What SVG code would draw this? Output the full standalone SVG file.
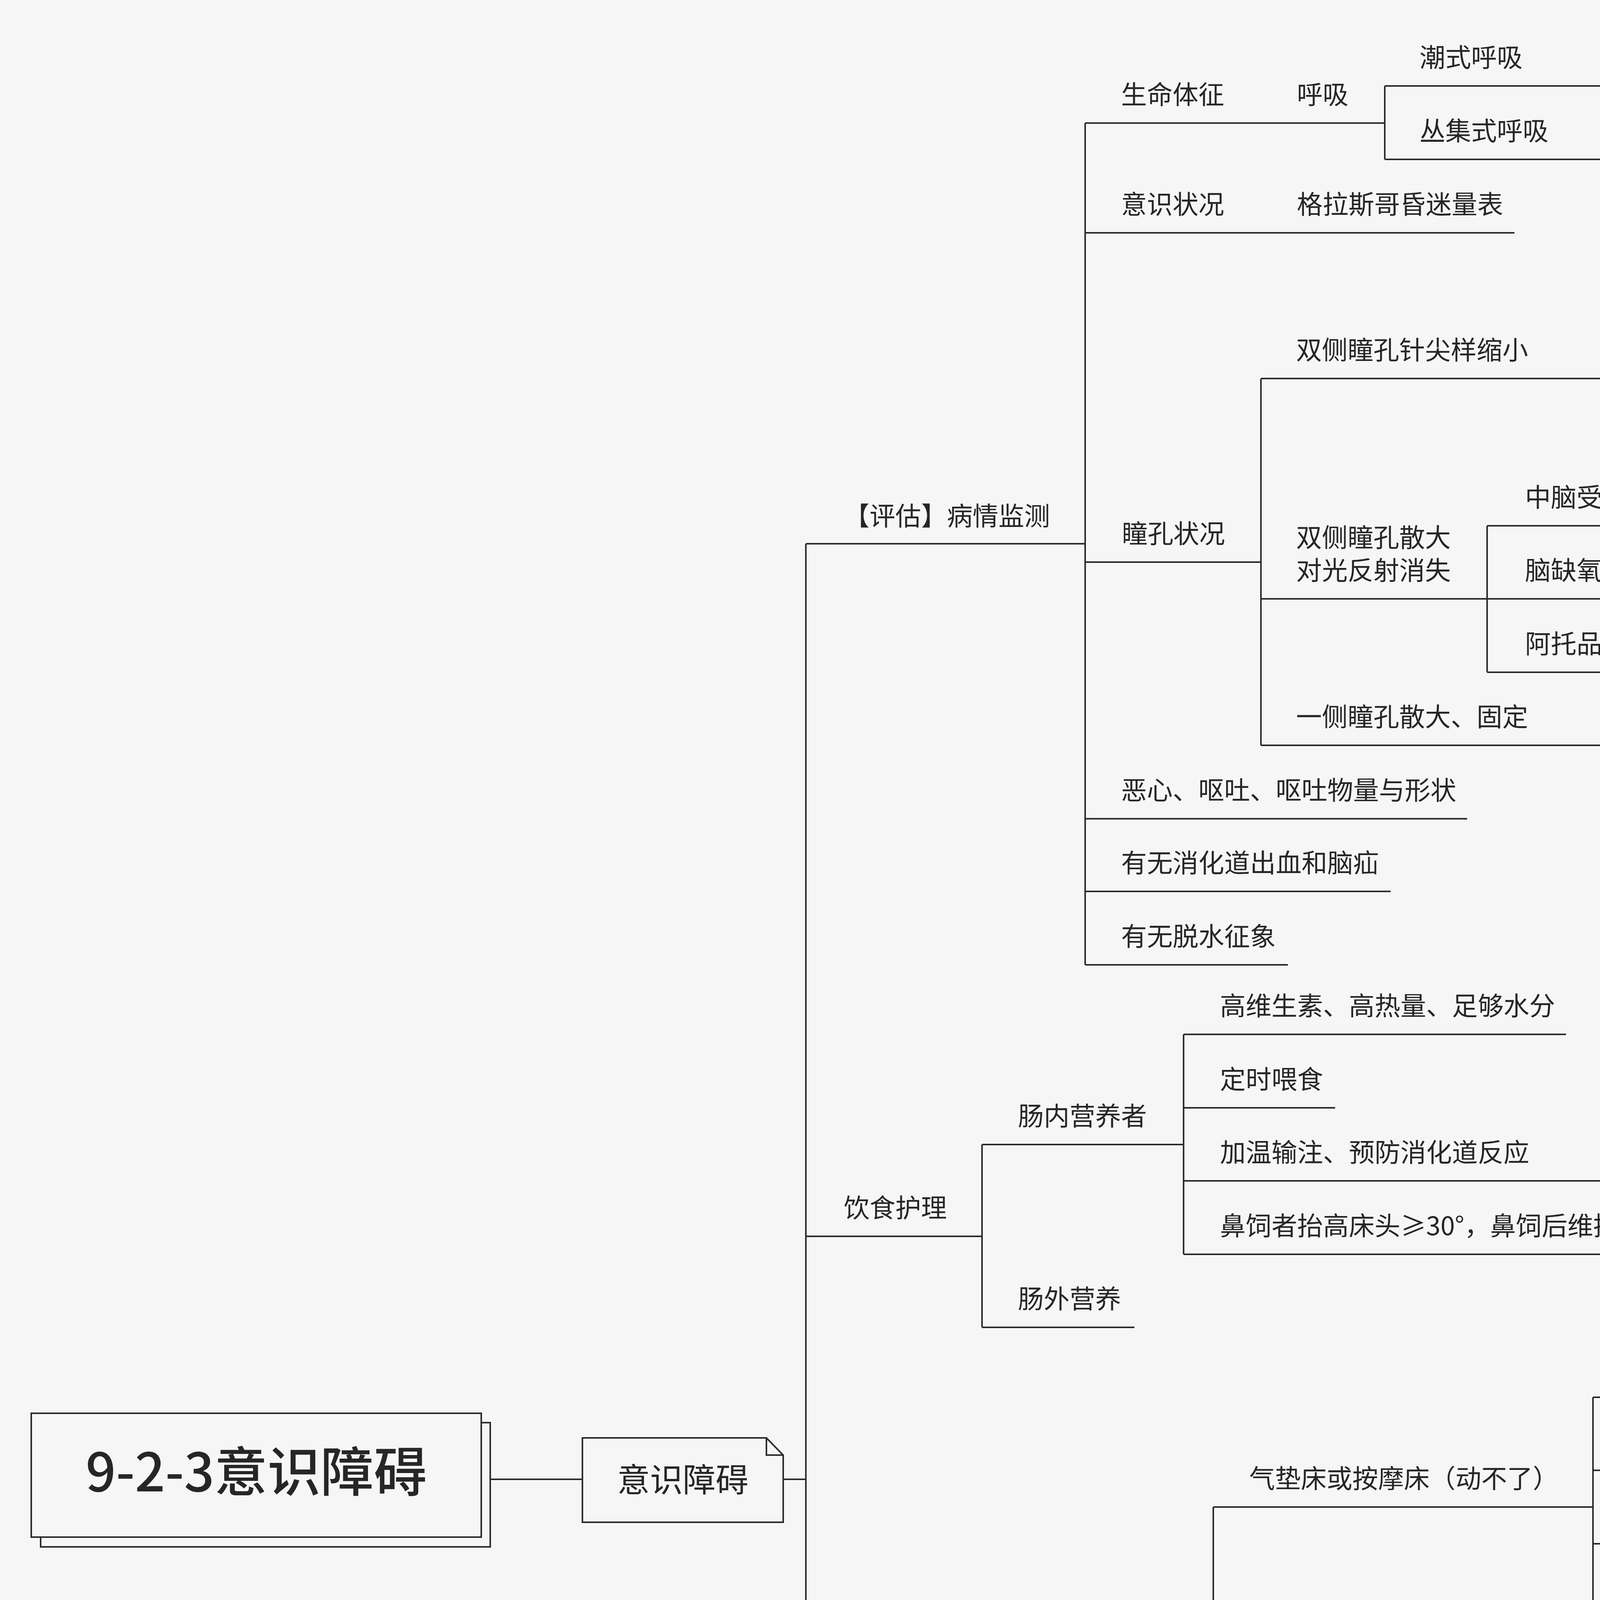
<svg xmlns="http://www.w3.org/2000/svg" width="5401" height="6826" viewBox="0 0 5401 6826">
<style>
.t{font-family:"Noto Sans CJK SC","Noto Sans",sans-serif;font-size:66px;fill:#262626}
.big{font-weight:500}
.ln{stroke:#2b2b2b;stroke-width:4;fill:none}
.box{stroke:#2b2b2b;stroke-width:4;fill:#f6f6f6}
</style>
<rect x="0" y="0" width="5401" height="6826" fill="#f6f6f6"/>
<g id="connectors" class="ln">
<path d="M1255,3787H1491"/>
<path d="M2005,3787H2063"/>
<path d="M2063,1392V6182"/>
<path d="M2778,315V2470"/>
<path d="M3545,220V408"/>
<path d="M3228,969V1908"/>
<path d="M4586,783V1158"/>
<path d="M3807,1346V1721"/>
<path d="M2514,2930V3398"/>
<path d="M3030,2648V3211"/>
<path d="M3106,3858V4701"/>
<path d="M4078,3577V4139"/>
<path d="M2710,4880V5442"/>
<path d="M2582,5620V6746"/>
</g>
<g id="root">
<rect class="box" x="104" y="3642" width="1151" height="318"/>
<rect class="box" x="80" y="3618" width="1152" height="317"/>
<text class="t big" x="656" y="3818" text-anchor="middle" style="font-size:136px">9-2-3意识障碍</text>
</g>
<g id="main">
<path class="box" d="M1491,3681H1962L2005,3725V3897H1491Z"/>
<path class="ln" d="M1962,3681V3725H2005"/>
<text class="t" x="1748" y="3819" text-anchor="middle" style="font-size:84px">意识障碍</text>
</g>
<g id="n-pinggu"><path class="ln" d="M2063,1392H2778"/><text class="t" x="2160" y="1345">【评估】病情监测</text></g>
<g id="n-smtz"><path class="ln" d="M2778,315H3545"/><text class="t" x="2870" y="266">生命体征</text><text class="t" x="3320" y="266">呼吸</text></g>
<g id="n-chaoshi"><path class="ln" d="M3545,220H4518"/><text class="t" x="3634" y="171">潮式呼吸</text><text class="t" x="4090" y="171">中脑水平受损</text></g>
<g id="n-congji"><path class="ln" d="M3545,408H4583"/><text class="t" x="3634" y="359">丛集式呼吸</text><text class="t" x="4154" y="359">脑桥下部病变</text></g>
<g id="n-yishi"><path class="ln" d="M2778,596H3877"/><text class="t" x="2870" y="547">意识状况</text><text class="t" x="3320" y="547">格拉斯哥昏迷量表</text></g>
<g id="n-tongkong"><path class="ln" d="M2778,1439H3228"/><text class="t" x="2872" y="1390">瞳孔状况</text></g>
<g id="n-zhenjian"><path class="ln" d="M3228,969H4586"/><text class="t" x="3318" y="920">双侧瞳孔针尖样缩小</text><text class="t" x="4098" y="920">脑桥被盖损伤</text></g>
<g id="n-nqcx"><path class="ln" d="M4586,783H4976"/><text class="t" x="4680" y="734">脑桥出血</text></g>
<g id="n-yjl"><path class="ln" d="M4586,969H5042"/><text class="t" x="4680" y="920">有机磷中毒</text></g>
<g id="n-mf"><path class="ln" d="M4586,1158H5042"/><text class="t" x="4680" y="1109">吗啡类中毒</text></g>
<g id="n-sanda"><path class="ln" d="M3228,1533H3807"/><text class="t" x="3318" y="1400">双侧瞳孔散大<tspan x="3318" y="1484">对光反射消失</tspan></text></g>
<g id="n-znss"><path class="ln" d="M3807,1346H4197"/><text class="t" x="3904" y="1297">中脑受损</text></g>
<g id="n-nqy"><path class="ln" d="M3807,1533H4131"/><text class="t" x="3904" y="1484">脑缺氧</text></g>
<g id="n-atp"><path class="ln" d="M3807,1721H4460"/><text class="t" x="3904" y="1672">阿托品类药物中毒</text></g>
<g id="n-yice"><path class="ln" d="M3228,1908H5042"/><text class="t" x="3318" y="1859">一侧瞳孔散大、固定</text><text class="t" x="4098" y="1859">同侧动眼神经受损</text><text class="t" x="4810" y="1859">钩回疝</text></g>
<g id="n-exin"><path class="ln" d="M2778,2096H3756"/><text class="t" x="2870" y="2047">恶心、呕吐、呕吐物量与形状</text></g>
<g id="n-xhd"><path class="ln" d="M2778,2282H3560"/><text class="t" x="2870" y="2233">有无消化道出血和脑疝</text></g>
<g id="n-ts"><path class="ln" d="M2778,2470H3297"/><text class="t" x="2870" y="2421">有无脱水征象</text></g>
<g id="n-yinshi"><path class="ln" d="M2063,3165H2514"/><text class="t" x="2160" y="3116">饮食护理</text></g>
<g id="n-cn"><path class="ln" d="M2514,2930H3030"/><text class="t" x="2606" y="2881">肠内营养者</text></g>
<g id="n-gws"><path class="ln" d="M3030,2648H4009"/><text class="t" x="3123" y="2599">高维生素、高热量、足够水分</text></g>
<g id="n-dsws"><path class="ln" d="M3030,2836H3418"/><text class="t" x="3123" y="2787">定时喂食</text></g>
<g id="n-jwsz"><path class="ln" d="M3030,3023H5118"/><text class="t" x="3123" y="2974">加温输注、预防消化道反应</text><text class="t" x="4096" y="2974">通过腹部按摩、热敷改善胃肠功能</text></g>
<g id="n-bs"><path class="ln" d="M3030,3211H5204"/><text class="t" x="3123" y="3162">鼻饲者抬高床头≥30°，鼻饲后维持原体位30分钟</text><text class="t" x="4708" y="3162">避免反流或呕吐</text></g>
<g id="n-cw"><path class="ln" d="M2514,3398H2904"/><text class="t" x="2606" y="3349">肠外营养</text></g>
<g id="n-shhl"><path class="ln" d="M2063,4279H3106"/><text class="t" x="2160" y="4230">生活护理（动不了、吃不了）</text></g>
<g id="n-qdc"><path class="ln" d="M3106,3858H4078"/><text class="t" x="3198" y="3809">气垫床或按摩床（动不了）</text></g>
<g id="n-jz"><path class="ln" d="M4078,3577H4664"/><text class="t" x="4174" y="3528">加装保护性床栏</text></g>
<g id="n-cdw"><path class="ln" d="M4078,3764H4729"/><text class="t" x="4174" y="3715">床单位整洁、干燥</text></g>
<g id="n-bczt"><path class="ln" d="M4078,3952H4664"/><text class="t" x="4174" y="3903">保持肢体功能位</text></g>
<g id="n-fs"><path class="ln" d="M4078,4139H5323"/><text class="t" x="4174" y="4090">定时给予翻身、拍背、按摩骨突受压处</text></g>
<g id="n-dxb"><path class="ln" d="M3106,4327H5156"/><text class="t" x="3198" y="4278">（大小便失禁）做好大小便护理 保持皮肤部位清洁 预防尿路感染</text></g>
<g id="n-cbl"><path class="ln" d="M3106,4514H5130"/><text class="t" x="3198" y="4465">（吃不了）注意口腔卫生 不能经口进食或禁食者每天口护2-3次</text></g>
<g id="n-ysbq"><path class="ln" d="M3106,4701H4946"/><text class="t" x="3198" y="4652">（意识不清）肢端发凉者注意保暖 但慎用热水袋防止烫伤</text></g>
<g id="n-hxd"><path class="ln" d="M2063,5160H2710"/><text class="t" x="2160" y="5111">保持呼吸道通畅</text></g>
<g id="n-pw"><path class="ln" d="M2710,4880H3429"/><text class="t" x="2804" y="4831">平卧头侧位或侧卧位</text></g>
<g id="n-qx"><path class="ln" d="M2710,5067H3626"/><text class="t" x="2804" y="5018">取下活动性义齿、开放气道</text></g>
<g id="n-jsql"><path class="ln" d="M2710,5255H3821"/><text class="t" x="2804" y="5206">及时清理口鼻腔分泌物与气道痰液</text></g>
<g id="n-fzsg"><path class="ln" d="M2710,5442H3954"/><text class="t" x="2804" y="5393">防止舌根后坠、窒息、误吸、肺部感染</text></g>
<g id="n-yfbf"><path class="ln" d="M2063,6182H2582"/><text class="t" x="2160" y="6133">预防并发症</text></g>
<g id="n-yc"><path class="ln" d="M2582,5620H2837"/><text class="t" x="2676" y="5571">压疮</text></g>
<g id="n-nl"><path class="ln" d="M2582,5807H2969"/><text class="t" x="2676" y="5758">尿路感染</text></g>
<g id="n-kq"><path class="ln" d="M2582,5996H2969"/><text class="t" x="2676" y="5947">口腔感染</text></g>
<g id="n-fb"><path class="ln" d="M2582,6182H2969"/><text class="t" x="2676" y="6133">肺部感染</text></g>
<g id="n-xz"><path class="ln" d="M2582,6370H3682"/><text class="t" x="2676" y="6321">下肢静脉血栓</text><text class="t" x="3253" y="6321">机体被动运动</text></g>
<g id="n-sdj"><path class="ln" d="M2582,6558H4317"/><text class="t" x="2676" y="6509">水电解质平衡紊乱+酸碱平衡紊乱</text><text class="t" x="3820" y="6509">准确记录出入量</text></g>
<g id="n-fzc"><path class="ln" d="M2582,6746H4405"/><text class="t" x="2676" y="6697">防坠床、自伤、伤人</text><text class="t" x="3452" y="6697">谵妄躁动者给予约束并告知家属</text></g>
</svg>
